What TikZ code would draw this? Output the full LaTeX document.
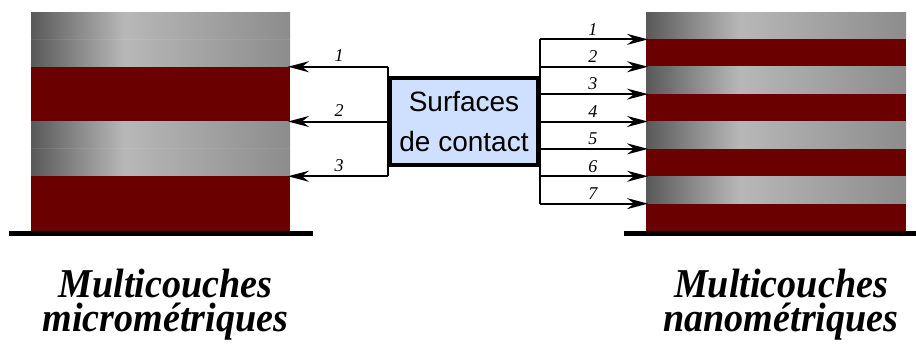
\documentclass[tikz,border=0pt]{standalone}
\usepackage{fontspec}
\setmainfont{Liberation Serif}
\newfontfamily\boxfont{Liberation Sans}
\newfontfamily\lblfont[FakeStretch=0.93]{Liberation Serif}
\usetikzlibrary{arrows.meta}
\definecolor{darkred}{RGB}{106,0,0}
\definecolor{boxblue}{RGB}{207,224,255}
\pgfdeclarehorizontalshading{metal}{100bp}{color(0bp)=(black!65); color(25bp)=(black!65); color(43bp)=(black!28); color(75bp)=(black!45); color(100bp)=(black!45)}
\tikzset{
  graylayer/.style={shading=metal, draw=none, inner sep=0pt, outer sep=0pt, anchor=north west},
  redlayer/.style={fill=darkred, draw=none, inner sep=0pt, outer sep=0pt, anchor=north west},
  conn/.style={line width=2pt, -{Stealth[length=21pt,width=11pt,inset=7pt]}, shorten >=-2pt},
  wire/.style={line width=2pt},
  num/.style={font=\fontsize{18}{18}\selectfont\itshape, inner sep=0pt},
  baseline/.style={line width=4.5pt},
  seam/.style={draw=white, opacity=0.08, line width=1pt},
  contact/.style={draw=black, line width=3.5pt, fill=boxblue, minimum width=148pt, minimum height=87pt, inner sep=0pt, align=center, font=\boxfont\fontsize{28}{40}\selectfont},
  caption/.style={align=center, inner sep=0pt, font=\lblfont\bfseries\itshape\fontsize{41}{34}\selectfont}
}
\begin{document}
\begin{tikzpicture}[x=1pt,y=-1pt]
\useasboundingbox (0,0) rectangle (916,349);
% left stack
\node[graylayer, minimum width=259pt, minimum height=54.75pt] (L1) at (31,12) {};
\node[redlayer, minimum width=259pt, minimum height=54.75pt] (L2) at (31,66.75) {};
\node[graylayer, minimum width=259pt, minimum height=54.75pt] (L3) at (31,121.5) {};
\node[redlayer, minimum width=259pt, minimum height=54.75pt] (L4) at (31,176.25) {};
\draw[seam] (L1.west) -- (L1.east);
\draw[seam] (L3.west) -- (L3.east);
\coordinate (LB1) at (9,233.5);
\coordinate (LB2) at (313,233.5);
\draw[baseline] (LB1) -- (LB2);
% right stack
\foreach \i in {1,...,8}{
  \pgfmathsetmacro{\yy}{12+(\i-1)*27.375}
  \ifodd\i
    \node[graylayer, minimum width=260pt, minimum height=27.375pt] (R\i) at (646,\yy) {};
  \else
    \node[redlayer, minimum width=260pt, minimum height=27.375pt] (R\i) at (646,\yy) {};
  \fi
}
\coordinate (RB1) at (624,233.5);
\coordinate (RB2) at (916,233.5);
\draw[baseline] (RB1) -- (RB2);
% box
\node[contact] (box) at (464,121.5) {Surfaces\\de contact};
% left connectors
\draw[wire] (box.west |- L2.north) -- (box.west |- L4.north);
\foreach \k/\n in {2/1,3/2,4/3}{
  \draw[conn] (box.west |- L\k.north) -- node[num, above=4pt] {\n} (L\k.north east);
}
% right connectors
\draw[wire] (box.east |- R2.north) -- (box.east |- R8.north);
\foreach \k/\n in {2/1,3/2,4/3,5/4,6/5,7/6,8/7}{
  \draw[conn] (box.east |- R\k.north) -- node[num, above=3pt] {\n} (R\k.north west);
}
% captions
\node[caption, anchor=base] (capL) at (165.5,331) {Multicouches\\micrométriques};
\node[caption, anchor=base] (capR) at (781,331) {Multicouches\\nanométriques};
\end{tikzpicture}
\end{document}
